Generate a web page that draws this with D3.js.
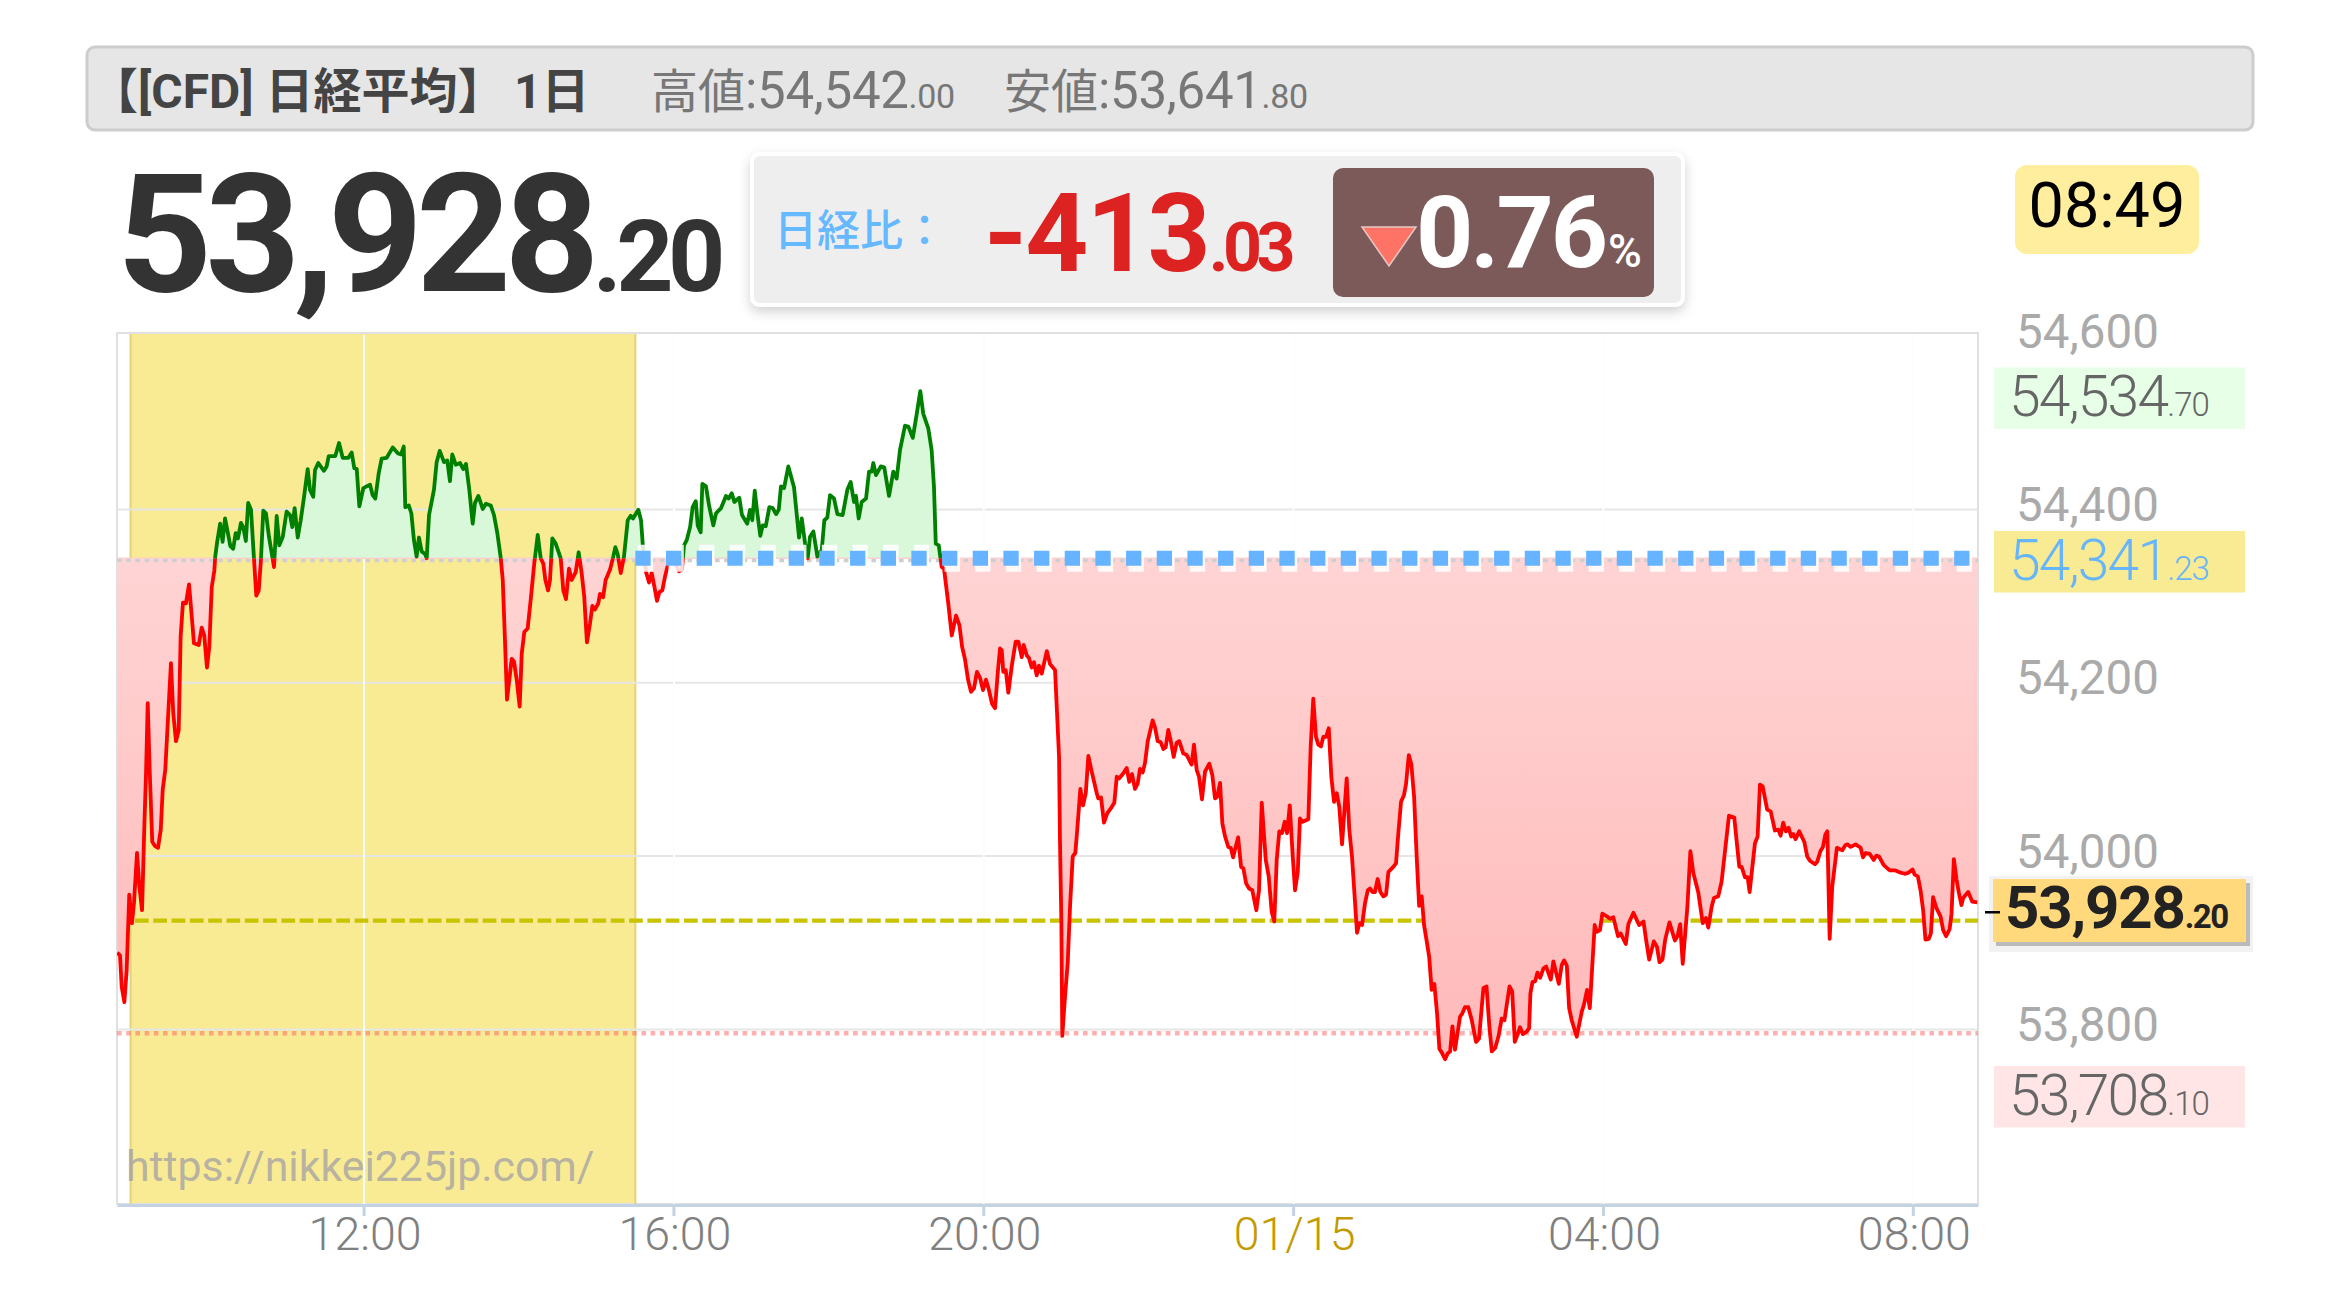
<!DOCTYPE html>
<html><head><meta charset="utf-8">
<script src="https://cdn.jsdelivr.net/npm/d3@7"></script>
<style>
html,body{margin:0;padding:0;background:#fff}
svg{display:block}
text{font-family:Roboto,"Noto Sans CJK JP",sans-serif}
</style></head><body>
<div id="chart"></div>
<script>
// minutes after 08:49 (previous day)
const minutes = [0.2,2.3,3.6,5.7,7.5,9.5,11.6,13.2,15.5,17.3,19.4,21.1,22.5,23.8,25.3,27.3,29.4,31.8,33.9,35.4,37.4,39.7,41.8,43.6,45.7,47.8,49.3,51.1,53.4,55.8,57.9,59.6,63.3,65.6,67.6,69.7,71.5,73.4,75.4,76.1,
77.5,79.9,81.8,83.7,85.9,87.8,90,91.9,93.7,96,97.8,99.8,101.6,103.8,106,107.9,109.8,111.5,113.3,115.4,117.7,120.3,121.6,123.7,125.7,128.4,131.4,134,135.8,137.6,
140,142.3,144.9,147.7,149.5,152,153.4,155.9,160.3,162.4,164,169.1,172,174.8,179.2,181.8,183.8,185.7,187.7,190.8,193.4,196,198,200.1,202.7,205,208.9,213.6,217.7,220,
222.1,223.3,226,228,230,232.1,233.9,236,238.6,239.9,241.7,245.5,247.6,250,253.3,255.8,257.9,259.7,262.4,265.7,268.2,270.3,272.9,275.5,277.3,279.9,283.3,285.8,289.5,292,
294.6,297.2,298.8,300.5,302.1,303.9,305.7,307.5,309.6,311.9,313.5,315.5,318.1,320.7,323.2,325.9,328.2,330.2,331.8,333.9,335.4,337.2,339.8,343.7,345.7,347.8,350.1,352.2,355.3,357.6,
359.9,361.9,364,366.4,368.2,370.3,372.8,374.1,376.5,378.5,381.9,384.4,386,387.8,390.2,392.7,395.6,397.9,399.7,403.8,405.9,407.4,409.8,412.1,414.2,416,418.3,420.1,422.4,424.5,
426.3,429.9,433,435.3,437.6,439.2,441.3,443.9,445.9,448.3,449.8,452.1,453.4,456.2,458.6,461.9,464,467.9,471.7,473.8,476.2,478.2,482,484.1,488.2,490.3,492.1,494,496,498.3,
500.2,502.5,505.3,507.9,510.5,512.6,514.3,516.7,520,524.4,528.3,530.4,533,535,536.8,539.4,542.5,545.9,547.9,550.2,552.3,555.4,558,562.1,565.7,568.3,570.9,572.4,574.5,576.8,
580.2,582.5,584.6,585.8,587.9,591.6,594.3,598,601.3,603.9,606.5,610.4,613,616.4,619.5,622.2,624.5,628.4,631,632.8,634.2,636.5,638.8,640.6,643.9,646.6,649.9,652.5,654.6,656.9,
659.2,661.5,663.8,666.1,668.5,670.8,673.1,675.4,677.8,680.1,682.4,684,685.3,686.5,688.4,690.4,693,696.1,698.2,700.8,702.3,704.7,706.4,708.5,710.3,712.4,714.2,716.3,720.2,722.7,
726.6,727.9,729.7,730.4,731.5,732.2,734.3,736.4,738.2,740.3,742.3,743.8,746.2,748.3,750.4,752.4,755,758.9,760.1,762.2,764.5,767.1,770.5,772.5,774.4,776.2,779.5,782.1,784.1,786.2,
788.5,790.6,792.4,794.5,796.3,798.4,802.2,804,806.1,808.4,810.5,812.3,814.3,816.4,818.5,820.8,822.8,825.9,828.6,832.4,834.2,836.3,838.1,840.4,842.8,846.1,848.4,850.5,852.3,854.4,
856.2,858.3,860.8,862.7,864.5,868.4,870.7,872.5,874.6,876.9,879.4,882.5,884.6,886.7,889.8,892.1,894.4,896.4,898.3,900.3,902.4,904.5,906.3,908.4,910.7,912.5,914.6,916.3,918.4,922.8,
924.6,926.6,928.7,930.5,932.6,934.4,936.5,938.6,940.6,942.7,944.8,946.8,948.9,952.5,954.5,956.6,960.5,962.3,964.4,966.7,968.8,970.6,972.6,974.4,976.5,978.6,980.9,983,984.8,988.6,
990.7,992.5,994.6,996.9,998.5,1000.6,1002.6,1004.7,1006.7,1008.6,1010.6,1012.4,1014.5,1016.4,1018.3,1020.4,1022.5,1024.3,1026.1,1028.7,1030.8,1032.6,1034.4,1036.4,1040.3,1042.1,1044.1,1046.7,1049.4,1052.7,
1055,1058.4,1060.8,1063,1064.9,1067.5,1070,1072.6,1074.7,1078.6,1080.7,1082.7,1084.7,1086.8,1088.9,1092,1093.8,1094.8,1096.4,1098.5,1100.2,1102.3,1104.9,1107,1110.6,1112.6,1116.8,1119.1,1120.9,1123,
1124.8,1126.8,1130.7,1134.6,1136.3,1138.7,1140.8,1144.6,1146.2,1148.7,1150.5,1153.9,1156.5,1159,1162.7,1164.8,1168.7,1170.7,1174.6,1179,1182.4,1184.4,1186.8,1190.4,1192.8,1194.8,1197.1,1199.2,1202.5,1206.7,
1208.7,1210.8,1212.8,1216.4,1218.7,1221,1224.9,1228.3,1230.8,1232.6,1235.2,1237,1240.3,1242.9,1248.6,1252.7,1256.6,1258.4,1261,1263.1,1264.6,1268.7,1270.8,1272.6,1274.7,1278.2,1280.9,1284.2,1286.8,1288.6,
1290.6,1292.7,1294.8,1296.8,1298.4,1300.2,1303,1306.9,1309.2,1311.3,1315.2,1317,1319.4,1321.4,1323.2,1324.8,1326.6,1328.6,1332.2,1336.4,1338.7,1340.3,1342.9,1346.7,1350.6,1352.4,1354.5,1357.6,1360.7,1362.8,
1364.8,1368.5,1373.1,1377,1380.3,1384.8,1387.3,1390.8,1392.5,1394.9,1397,1399,1400.8,1403.4,1405,1406.7,1409.4,1412.5,1414.5,1416.8,1419.5,1421,1422.8,1424.9,1426.7,1428.7,1430,1433.9,1437,1440.9];

const prices = [53888,53885,53849,53831,53868,53955,53922,53946,54003,53965,53937,54030,54096,54176,54099,54016,54011,54009,54030,54076,54099,54164,54222,54164,54132,54145,54253,54292,54291,54313,54276,54245,54243,54263,54254,54217,54241,54310,54329,54345,
54361,54383,54362,54389,54372,54357,54354,54372,54366,54384,54379,54363,54407,54399,54345,54300,54306,54341,54398,54395,54368,54345,54333,54392,54358,54368,54397,54393,54379,54401,
54367,54387,54414,54446,54422,54414,54445,54453,54444,54449,54461,54461,54476,54459,54459,54465,54447,54446,54403,54424,54426,54428,54416,54412,54441,54458,54459,54471,54464,54463,
54472,54402,54404,54395,54364,54345,54367,54351,54348,54343,54393,54422,54454,54467,54454,54456,54432,54463,54451,54453,54446,54452,54422,54383,54407,54415,54400,54406,54404,54393,
54372,54344,54318,54249,54180,54203,54227,54224,54203,54172,54233,54258,54262,54299,54337,54370,54343,54337,54318,54306,54318,54366,54360,54343,54306,54296,54331,54318,54327,54350,
54326,54299,54246,54268,54288,54284,54291,54302,54298,54318,54330,54345,54356,54348,54326,54345,54387,54392,54389,54399,54387,54356,54327,54315,54326,54312,54294,54304,54306,54322,
54333,54343,54335,54328,54330,54358,54364,54379,54402,54409,54381,54373,54429,54426,54404,54381,54395,54401,54415,54412,54418,54408,54413,54393,54383,54399,54387,54421,54395,54369,
54381,54380,54402,54401,54394,54399,54426,54424,54449,54425,54367,54389,54360,54343,54368,54374,54345,54353,54387,54390,54416,54412,54394,54393,54422,54431,54408,54415,54389,54408,
54412,54443,54443,54453,54439,54449,54448,54415,54443,54435,54468,54496,54495,54482,54510,54536,54510,54493,54468,54426,54360,54358,54333,54331,54291,54254,54277,54266,54241,54226,
54203,54189,54193,54212,54205,54191,54203,54191,54175,54170,54214,54239,54237,54212,54214,54188,54218,54247,54247,54229,54243,54231,54228,54217,54223,54208,54219,54210,54236,54221,
54214,54172,54114,54018,53922,53792,53837,53876,53941,53999,54003,54030,54077,54058,54072,54115,54097,54072,54066,54067,54038,54049,54056,54061,54091,54089,54095,54101,54085,54094,
54077,54083,54100,54096,54107,54132,54156,54148,54132,54131,54123,54125,54145,54131,54114,54130,54132,54118,54116,54105,54128,54099,54091,54065,54097,54106,54093,54066,54068,54084,
54037,54022,54010,54009,53998,54021,53987,53985,53968,53962,53960,53937,53960,54061,53995,53976,53935,53924,53995,54028,54026,54039,54026,54058,53999,53960,53981,54043,54039,54042,
54126,54181,54137,54128,54126,54137,54137,54147,54091,54062,54072,54056,54013,54089,54030,53999,53911,53922,53920,53945,53960,53962,53958,53958,53973,53958,53953,53955,53981,53987,
53991,54026,54062,54070,54083,54116,54105,54068,53999,53942,53953,53920,53901,53883,53845,53852,53818,53777,53773,53765,53772,53774,53803,53776,53814,53818,53825,53825,53810,53785,
53789,53847,53849,53803,53774,53778,53791,53812,53810,53849,53843,53785,53793,53802,53794,53797,53801,53841,53854,53855,53865,53859,53870,53872,53857,53878,53852,53874,53879,53873,
53824,53810,53791,53820,53828,53845,53824,53920,53912,53914,53933,53930,53927,53929,53907,53910,53898,53921,53934,53920,53924,53903,53880,53901,53895,53877,53880,53903,53923,53902,
53907,53921,53875,53941,54005,53980,53957,53922,53928,53917,53941,53951,53953,53970,54046,54044,53987,53987,53975,53975,53958,54014,54022,54082,54080,54053,54051,54029,54030,54023,
54038,54028,54032,54022,54025,54019,54028,54016,53999,53994,53990,53993,54005,54010,54024,54028,53904,53964,54009,54006,54012,54013,54010,54013,54009,53998,54003,54002,53995,54000,
53999,53989,53983,53983,53981,53979,53980,53984,53978,53976,53960,53937,53903,53904,53910,53952,53939,53930,53914,53907,53915,53933,53996,53972,53957,53943,53951,53958,53947,53946];

const yTicks = [53800,54000,54200,54400,54600];
const gridTicks = [53800,54000,54200,54400];
const xTickMinutes = [191,431,671,911,1151,1391];
const xTickLabels = ["12:00","16:00","20:00","01/15","04:00","08:00"];
const baseLevel = 54343;      // previous-close line as drawn
const dashedLevel = 53925;
const dottedLevel = 53795;
const sessionStart = 10.5, sessionEnd = 401.5; // minutes
const highLabel = ["54,542",".00"], lowLabel = ["53,641",".80"];
const lastLabel = ["53,928",".20"], diffLabel = ["-413",".03"], pctLabel = "0.76";
const chipHigh = ["54,534",".70"], chipBase = ["54,341",".23"], chipLow = ["53,708",".10"];

const W = 2340, H = 1299;
const L = 117, R = 1978, T = 333, B = 1204;
const x = d3.scaleLinear().domain([0,1441.5]).range([L,R]);
const y = d3.scaleLinear().domain([53598,54603]).range([B,T]);
const data = minutes.map((m,i)=>({m,v:prices[i]}));

const svg = d3.select("#chart").append("svg").attr("width",W).attr("height",H).attr("viewBox",`0 0 ${W} ${H}`);
const defs = svg.append("defs");
const grad = defs.append("linearGradient").attr("id","pink").attr("gradientUnits","userSpaceOnUse").attr("x1",0).attr("x2",0).attr("y1",y(baseLevel)).attr("y2",1060);
grad.append("stop").attr("offset",0).attr("stop-color","#ffd4d4");
grad.append("stop").attr("offset",1).attr("stop-color","#ffb9b9");
const shadow = defs.append("filter").attr("id","sh").attr("x","-5%").attr("y","-15%").attr("width","110%").attr("height","130%");
shadow.append("feDropShadow").attr("dx",0).attr("dy",5).attr("stdDeviation",6).attr("flood-color","#000").attr("flood-opacity",.18);
defs.append("clipPath").attr("id","above").append("rect").attr("x",L).attr("y",T).attr("width",R-L).attr("height",y(baseLevel)-T);
defs.append("clipPath").attr("id","below").append("rect").attr("x",L).attr("y",y(baseLevel)).attr("width",R-L).attr("height",B-y(baseLevel));

// --- Header bar
svg.append("rect").attr("x",87).attr("y",47).attr("width",2166).attr("height",83).attr("rx",8).attr("fill","#e6e6e6").attr("stroke","#cdcdcd").attr("stroke-width",3);
function priceText(px,py,parts,size,decSize,opt={}){
  const t = svg.append("text").attr("x",px).attr("y",py).attr("fill",opt.fill||"#333").attr("font-weight",opt.weight||400).attr("text-anchor",opt.anchor||"start");
  if(opt.prefix) t.append("tspan").attr("font-size",opt.prefixSize).text(opt.prefix);
  t.append("tspan").attr("font-size",size).attr("letter-spacing",opt.ls==null?0:opt.ls).text(parts[0]);
  if(parts[1]) t.append("tspan").attr("font-size",decSize).attr("font-weight",opt.decWeight||opt.weight||400).attr("letter-spacing",opt.dls==null?0:opt.dls).text(parts[1]);
  return t;
}
svg.append("text").attr("x",90).attr("y",108).attr("font-size",48).attr("font-weight",700).attr("fill","#444").text("【[CFD] 日経平均】");
svg.append("text").attr("x",514).attr("y",108).attr("font-size",48).attr("font-weight",700).attr("fill","#444").text("1日");
priceText(651,108,[":"+highLabel[0],highLabel[1]],51,34,{fill:"#777",prefix:"高値",prefixSize:47,ls:-.3,dls:-.3});
priceText(1004,108,[":"+lowLabel[0],lowLabel[1]],51,34,{fill:"#777",prefix:"安値",prefixSize:47,ls:-.3,dls:-.3});

// --- Big price
priceText(117,291,lastLabel,166,100,{fill:"#333",weight:700,ls:-6.9,dls:-5.5});

// --- Change badge
svg.append("rect").attr("x",752).attr("y",154).attr("width",931).attr("height",151).attr("rx",8).attr("fill","#eee").attr("stroke","#fff").attr("stroke-width",4).attr("filter","url(#sh)");
svg.append("text").attr("x",774).attr("y",246).attr("font-size",43).attr("font-weight",500).attr("fill","#66b8ff").text("日経比：");
priceText(984,271,diffLabel,110,68,{fill:"#dd2222",weight:700,ls:-2,dls:-5.5});
svg.append("rect").attr("x",1333).attr("y",168).attr("width",321).attr("height",129).attr("rx",10).attr("fill","#7d5a5a");
svg.append("path").attr("d",d3.line()([[1362,227],[1416,227],[1389,266]])+"Z").attr("fill","#ff7366").attr("stroke","#e6c9c4").attr("stroke-width",1.5);
svg.append("text").attr("x",1416).attr("y",267).attr("font-size",100).attr("font-weight",700).attr("fill","#fff").attr("letter-spacing",-3).text(pctLabel);
svg.append("text").attr("x",1608).attr("y",267).attr("font-size",46).attr("font-weight",500).attr("fill","#fff").text("%");

// --- Time chip
svg.append("rect").attr("x",2015).attr("y",165).attr("width",184).attr("height",89).attr("rx",12).attr("fill","#ffee9d");
svg.append("text").attr("x",2107).attr("y",227).attr("text-anchor","middle").attr("font-size",63).attr("fill","#000").text("08:49");

// --- Plot base
svg.append("rect").attr("x",L).attr("y",T).attr("width",R-L).attr("height",B-T).attr("fill","#fff").attr("stroke","#e0e0e0").attr("stroke-width",2);
// session band
svg.append("rect").attr("x",x(sessionStart)).attr("y",T+1).attr("width",x(sessionEnd)-x(sessionStart)).attr("height",B-T-2).attr("fill","#f9ea94");
[sessionStart,sessionEnd].forEach(m=>svg.append("line").attr("x1",x(m)).attr("x2",x(m)).attr("y1",T+1).attr("y2",B).attr("stroke","#e3d27a").attr("stroke-width",2));

// grid via axes
const gy = svg.append("g").attr("transform",`translate(${L},0)`).call(d3.axisLeft(y).tickValues(gridTicks).tickSize(-(R-L)));
gy.select(".domain").remove();
gy.selectAll("text").remove();
gy.selectAll("line").attr("stroke","#e6e6e6").attr("stroke-width",2);
const gx = svg.append("g").attr("transform",`translate(0,${B})`).call(d3.axisTop(x).tickValues(xTickMinutes).tickSize(B-T-2));
gx.select(".domain").remove();
gx.selectAll("text").remove();
gx.selectAll("line").attr("stroke","#fdfdfa").attr("stroke-width",2);

// level lines (under the fill)
svg.append("line").attr("x1",135).attr("x2",R).attr("y1",y(dashedLevel)).attr("y2",y(dashedLevel)).attr("stroke","#c8c400").attr("stroke-width",4.4).attr("stroke-dasharray","13.7 4.6");
svg.append("line").attr("x1",L).attr("x2",R).attr("y1",y(dottedLevel)).attr("y2",y(dottedLevel)).attr("stroke","rgba(255,95,95,.5)").attr("stroke-width",4.5).attr("stroke-dasharray","4.6 4.6");

// area + line, split at base level
const area = d3.area().x(d=>x(d.m)).y0(y(baseLevel)).y1(d=>y(d.v));
const line = d3.line().x(d=>x(d.m)).y(d=>y(d.v));
svg.append("path").datum(data).attr("d",area).attr("fill","url(#pink)").attr("clip-path","url(#below)");
svg.append("path").datum(data).attr("d",area).attr("fill","#d9f8d9").attr("clip-path","url(#above)");
svg.append("line").attr("x1",L).attr("x2",R).attr("y1",y(baseLevel)).attr("y2",y(baseLevel)).attr("stroke","#ffd0d0").attr("stroke-width",1.5);
svg.append("line").attr("x1",L).attr("x2",R).attr("y1",y(baseLevel)+2.2).attr("y2",y(baseLevel)+2.2).attr("stroke","#cfcfcf").attr("stroke-width",3.5).attr("stroke-dasharray","4.6 4.6");
svg.append("path").datum(data).attr("d",line).attr("fill","none").attr("stroke","#ff0000").attr("stroke-width",3.8).attr("stroke-linejoin","round").attr("clip-path","url(#below)");
svg.append("path").datum(data).attr("d",line).attr("fill","none").attr("stroke","#008000").attr("stroke-width",3.8).attr("stroke-linejoin","round").attr("clip-path","url(#above)");

// previous-close squares from the session end
const sq = x(sessionEnd);
svg.append("line").attr("x1",sq+2.5).attr("x2",R).attr("y1",y(baseLevel)).attr("y2",y(baseLevel)).attr("stroke","#fff").attr("stroke-width",27).attr("stroke-opacity",.85).attr("stroke-dasharray","15.3 15.37");
svg.append("line").attr("x1",sq).attr("x2",R-3).attr("y1",y(baseLevel)).attr("y2",y(baseLevel)).attr("stroke","#66b3ff").attr("stroke-width",15).attr("stroke-dasharray","15.3 15.37");

// watermark
svg.append("text").attr("x",126).attr("y",1181).attr("font-size",42.8).attr("fill","rgba(140,140,170,.62)").text("https://nikkei225jp.com/");

// --- axes with labels
const xAxis = svg.append("g").attr("transform",`translate(0,${B+1})`).call(d3.axisBottom(x).tickValues(xTickMinutes).tickFormat((d,i)=>xTickLabels[i]).tickSize(11).tickSizeOuter(0));
xAxis.select(".domain").attr("stroke","#c3d3e3").attr("stroke-width",3);
xAxis.selectAll("line").attr("stroke","#c3d3e3").attr("stroke-width",3);
xAxis.selectAll("text").attr("y",45).attr("dy",0).attr("font-size",46.5).attr("font-family",'Roboto,sans-serif').attr("font-weight",300).attr("fill",d=>d===911?"#c39a00":"#808080").attr("dx",1);

const yAxis = svg.append("g").attr("transform","translate(2016,0)").call(d3.axisRight(y).tickValues(yTicks).tickFormat(d3.format(",")).tickSize(0).tickPadding(0));
yAxis.select(".domain").remove();
yAxis.selectAll("text").attr("dy",11.5).attr("font-size",47.5).attr("font-family",'Roboto,sans-serif').attr("fill","#aaa");

// chips
function chip(yTop,fill,parts,color){
  svg.append("rect").attr("x",1994).attr("y",yTop).attr("width",251).attr("height",61.5).attr("fill",fill);
  priceText(2009,yTop+48.5,parts,57,33,{fill:color,weight:300,ls:-1.8,dls:-1});
}
chip(367.5,"#e6ffe6",chipHigh,"#666");
chip(531,"#f9ea94",chipBase,"#66b5fa");
chip(1066,"#ffe5e5",chipLow,"#666");

svg.append("rect").attr("x",1989).attr("y",876).attr("width",264).attr("height",76).attr("fill","#f2f2f2");
svg.append("rect").attr("x",1996).attr("y",883).attr("width",254).attr("height",63).attr("fill","#bbb");
svg.append("rect").attr("x",1993).attr("y",879).attr("width",253).attr("height",63).attr("fill","#ffd97c");
priceText(2005,928,lastLabel,60,33,{fill:"#222",weight:700,ls:-1.2,dls:-1.5});
svg.append("rect").attr("x",1985).attr("y",911).attr("width",15).attr("height",2.5).attr("fill","#000");
</script>
</body></html>
